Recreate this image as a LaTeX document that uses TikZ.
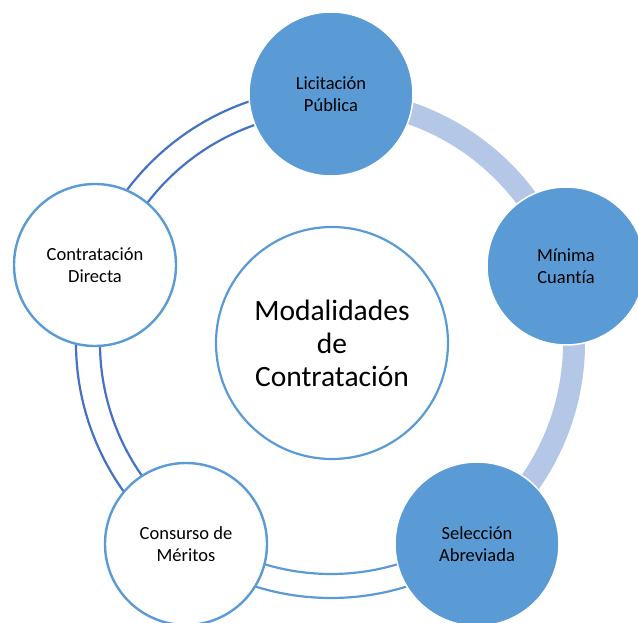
\documentclass[tikz,border=0pt]{standalone}
\usepackage{fontspec}
\setmainfont{Carlito}[Ligatures={NoCommon}]
\usetikzlibrary{backgrounds}
\definecolor{accblue}{HTML}{5B9BD5}
\definecolor{darkblue}{HTML}{4472C4}
\definecolor{lightband}{HTML}{B4C7E7}
\begin{document}
\begin{tikzpicture}[x=1pt,y=1pt,
  filled/.style={circle, fill=accblue, draw=white, line width=1.5pt, minimum size=#1, inner sep=0pt, align=center, text=black, font=\fontsize{18.5}{21.5}\selectfont},
  hollow/.style={circle, fill=white, draw=accblue, line width=2.4pt, minimum size=#1, inner sep=0pt, align=center, text=black, font=\fontsize{18.5}{21.5}\selectfont},
  hub/.style={circle, fill=white, draw=accblue, line width=2.2pt, minimum size=#1, inner sep=0pt, align=center, text=black, font=\fontsize{29.5}{33}\selectfont},
  band/.style={lightband, line width=22pt},
  dblline/.style={line width=2.2pt}]
\useasboundingbox (0,0) rectangle (638,622);
\coordinate (c) at (331,279);
\node[hub=232pt] (hubc) at (332,279) {Modalidades\\de\\Contratación};
\node[filled=164pt] (lic) at (331,528) {Licitación\\Pública};
\node[filled=158pt] (min) at (566,356) {Mínima\\Cuantía};
\node[filled=164pt] (sel) at (477,78) {Selección\\Abreviada};
\node[hollow=162pt] (con) at (186,78) {Consurso de\\Méritos};
\node[hollow=162pt] (dir) at (95,357) {Contratación\\Directa};
\begin{scope}[on background layer]
  \draw[band] ([shift={(90:243)}]c) arc[start angle=90, end angle=18, radius=243];
  \draw[band] ([shift={(18:243)}]c) arc[start angle=18, end angle=-54, radius=243];
  \draw[dblline, accblue] ([shift={(-54:231)}]c) arc[start angle=-54, end angle=-126, radius=231];
  \draw[dblline, accblue] ([shift={(-54:255)}]c) arc[start angle=-54, end angle=-126, radius=255];
  \draw[dblline, darkblue] ([shift={(-126:231)}]c) arc[start angle=-126, end angle=-198, radius=231];
  \draw[dblline, darkblue] ([shift={(-126:255)}]c) arc[start angle=-126, end angle=-198, radius=255];
  \draw[dblline, darkblue] ([shift={(162:231)}]c) arc[start angle=162, end angle=90, radius=231];
  \draw[dblline, darkblue] ([shift={(162:255)}]c) arc[start angle=162, end angle=90, radius=255];
\end{scope}
\end{tikzpicture}
\end{document}
